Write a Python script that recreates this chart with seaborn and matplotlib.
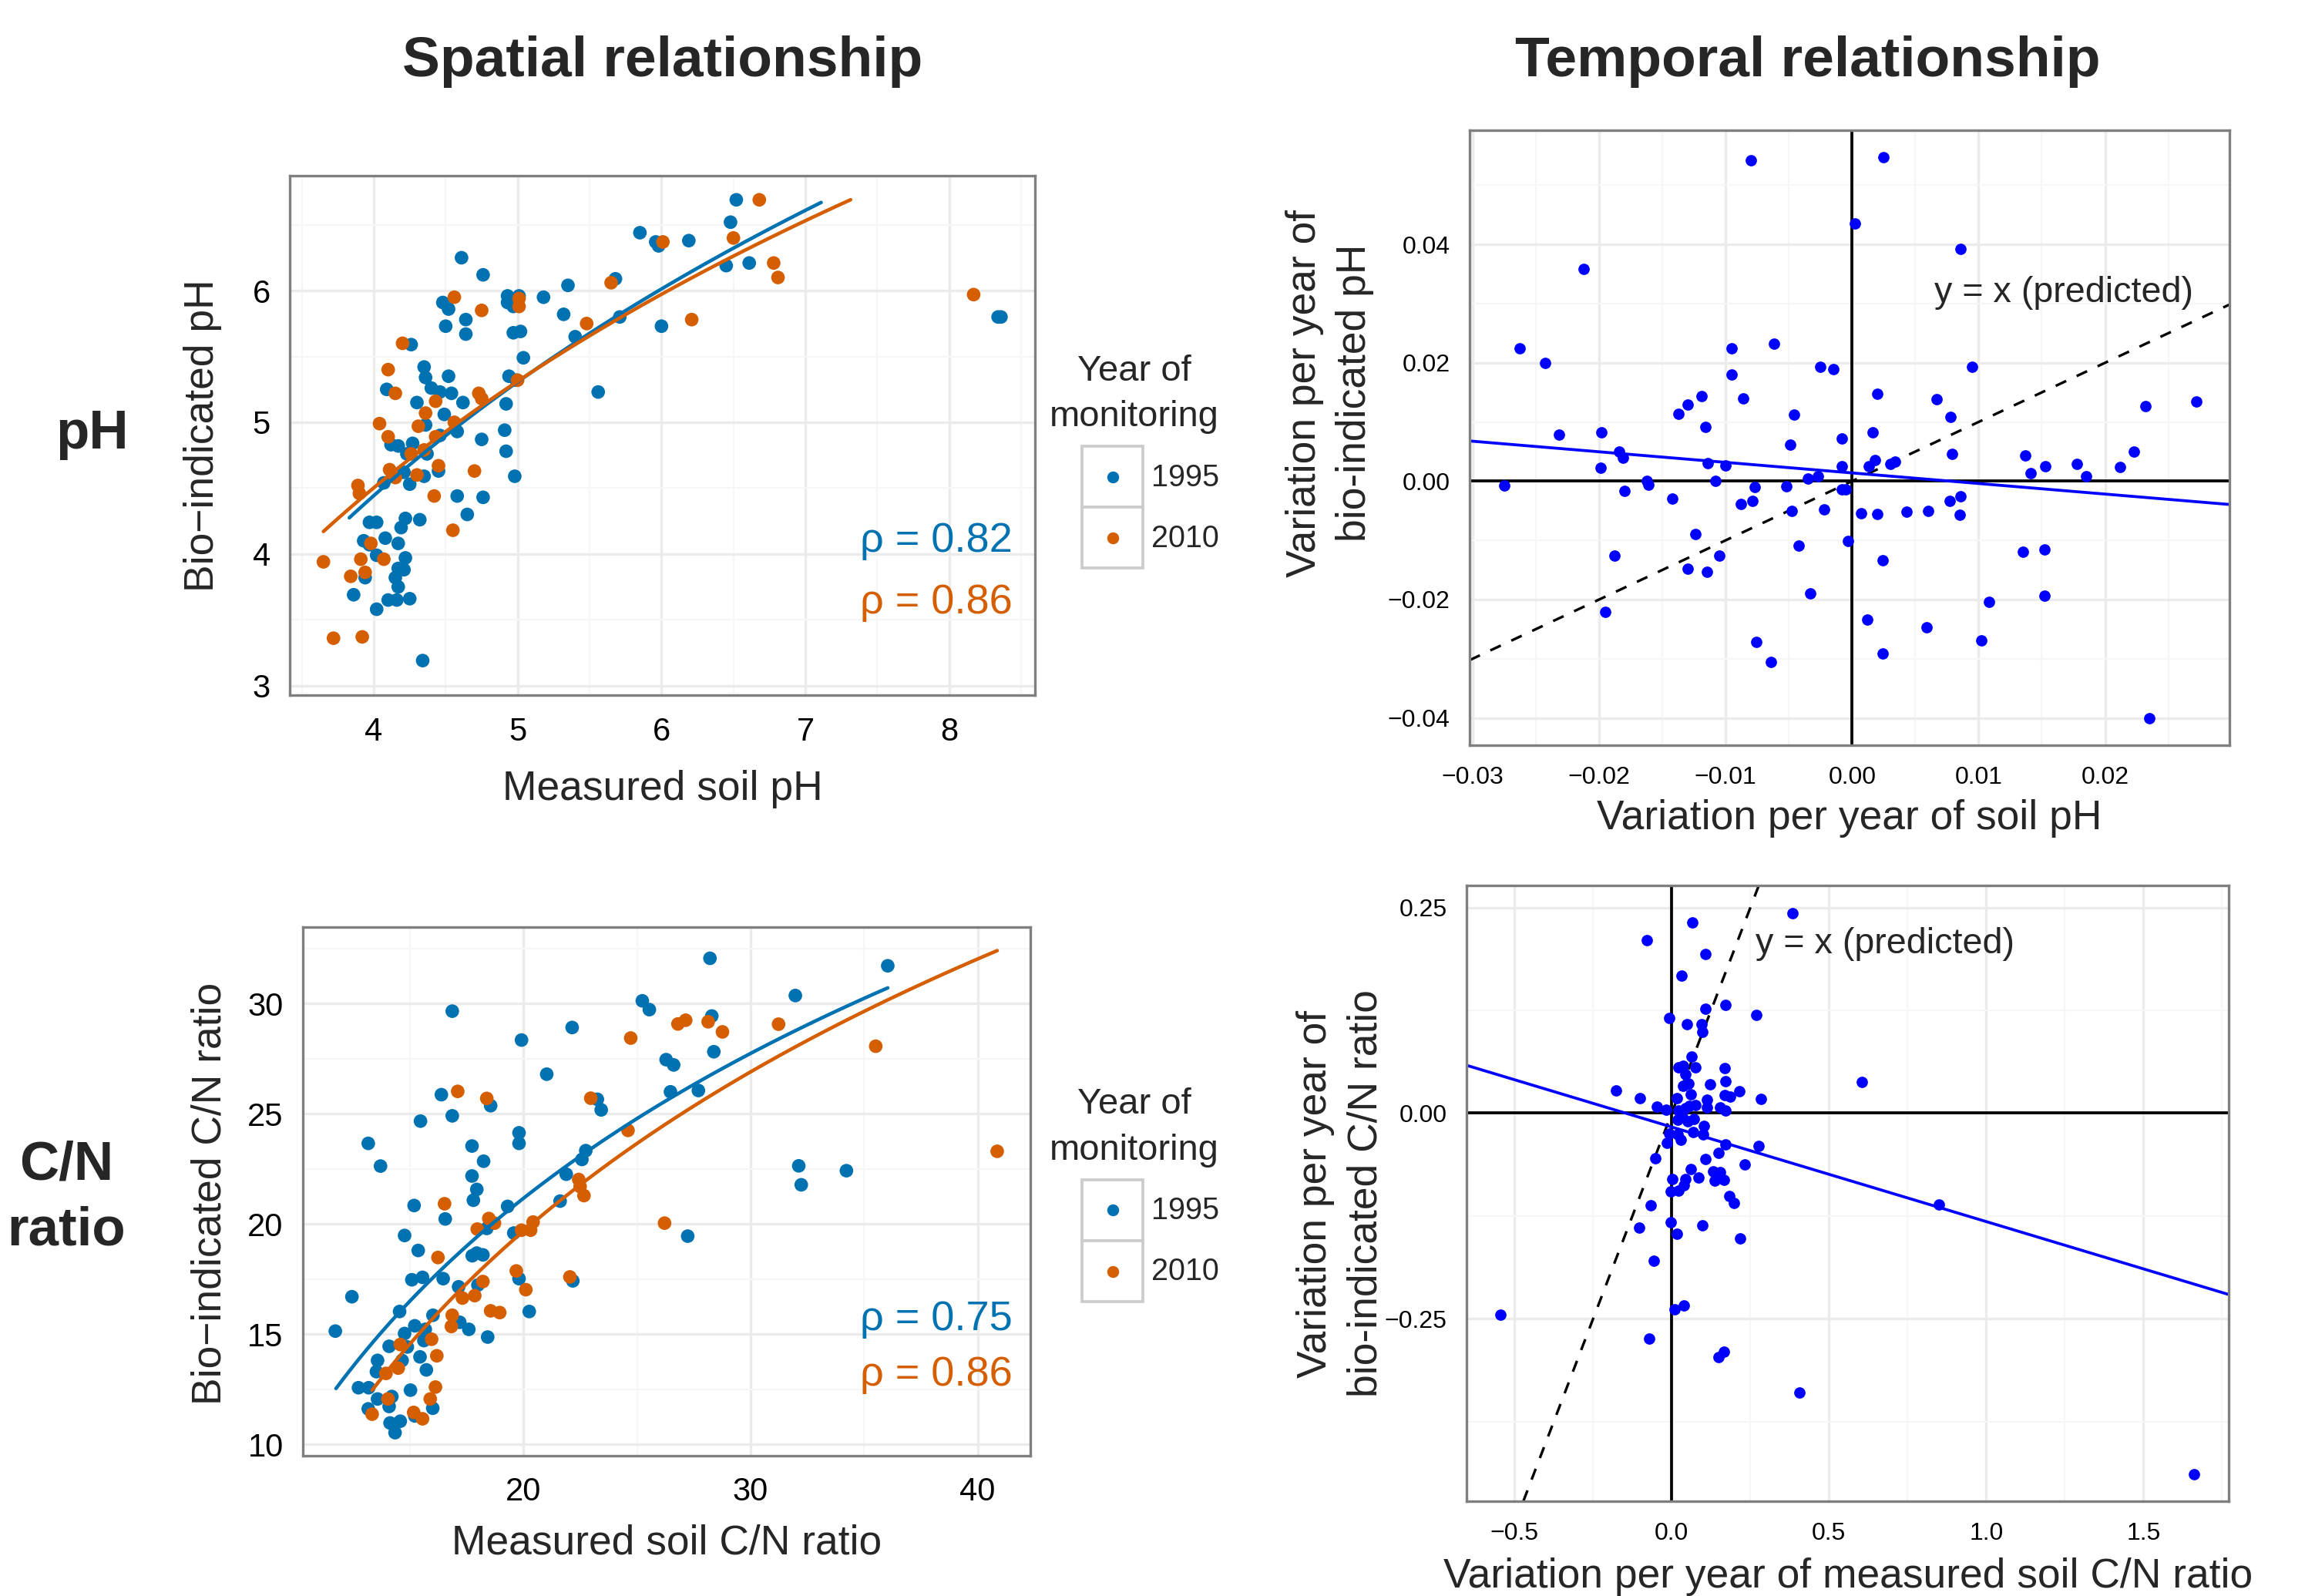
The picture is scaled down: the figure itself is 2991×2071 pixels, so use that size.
import numpy as np
import pandas as pd
import matplotlib
matplotlib.use("Agg")
import matplotlib.pyplot as plt
import seaborn as sns
from matplotlib.patches import Rectangle
from matplotlib.lines import Line2D

# ---------------- data ----------------
years = ["1995", "2010"]
year_colors = ["#0072B2", "#D55E00"]

# Spatial relationship, pH
ph95_x = [5.85, 5.96, 5.98, 4.61, 4.76, 4.48, 4.52, 4.93, 5.01, 4.93, 4.97, 5.18, 5.35, 5.68, 4.64,
          4.50, 4.64, 5.32, 5.71, 6.00, 4.97, 5.02, 5.40, 5.04, 4.26, 4.35, 4.36, 4.40, 4.46, 4.52,
          4.54, 4.09, 4.30, 4.62, 4.94, 4.99, 4.92, 5.56, 4.49, 4.36, 4.58, 4.91, 4.75, 4.92, 4.98,
          4.12, 4.17, 4.27, 4.23, 4.37, 4.46, 4.21, 4.35, 4.25, 4.07, 4.45, 4.58, 4.76, 4.65, 3.97,
          4.02, 4.22, 4.19, 4.32, 3.93, 3.97, 4.08, 4.17, 4.02, 4.22, 4.17, 4.21, 4.15, 3.94, 4.17,
          3.86, 4.10, 4.16, 4.25, 4.02, 4.34, 6.52, 6.48, 6.19, 6.45, 6.61, 8.34, 8.36]
ph95_y = [6.44, 6.37, 6.34, 6.25, 6.12, 5.91, 5.86, 5.96, 5.96, 5.91, 5.88, 5.95, 6.04, 6.09, 5.78,
          5.73, 5.67, 5.82, 5.80, 5.73, 5.68, 5.69, 5.65, 5.49, 5.59, 5.42, 5.34, 5.26, 5.23, 5.35,
          5.22, 5.25, 5.15, 5.15, 5.35, 5.32, 5.14, 5.23, 5.06, 4.98, 4.93, 4.94, 4.87, 4.78, 4.59,
          4.83, 4.82, 4.84, 4.76, 4.76, 4.90, 4.62, 4.59, 4.53, 4.54, 4.63, 4.44, 4.43, 4.30, 4.24,
          4.24, 4.27, 4.20, 4.26, 4.10, 4.07, 4.12, 4.08, 3.99, 3.97, 3.89, 3.88, 3.82, 3.82, 3.75,
          3.69, 3.65, 3.65, 3.66, 3.58, 3.19, 6.69, 6.52, 6.38, 6.19, 6.21, 5.80, 5.80]
ph10_x = [6.01, 5.65, 4.56, 4.75, 5.01, 5.01, 5.48, 4.20, 4.10, 4.15, 4.43, 4.36, 4.73, 4.75, 4.04,
          4.31, 4.56, 5.00, 4.10, 4.43, 4.26, 4.35, 4.11, 4.15, 4.30, 4.45, 4.70, 3.89, 3.90, 4.42,
          4.55, 3.98, 3.91, 4.07, 3.65, 3.84, 3.94, 3.72, 3.92, 6.68, 6.50, 6.78, 6.81, 6.21, 8.17]
ph10_y = [6.37, 6.06, 5.95, 5.85, 5.94, 5.88, 5.75, 5.60, 5.40, 5.22, 5.16, 5.07, 5.22, 5.18, 4.99,
          4.97, 5.00, 5.32, 4.89, 4.89, 4.76, 4.79, 4.64, 4.58, 4.60, 4.67, 4.63, 4.52, 4.46, 4.44,
          4.18, 4.08, 3.96, 3.96, 3.94, 3.83, 3.86, 3.36, 3.37, 6.69, 6.40, 6.21, 6.10, 5.78, 5.97]

# Spatial relationship, C/N ratio
cn95_x = [16.86, 19.91, 22.14, 25.23, 25.54, 21.02, 26.28, 26.61, 26.47, 23.25, 23.42, 16.38, 18.55,
          16.86, 15.46, 13.16, 13.70, 19.80, 19.80, 17.73, 18.24, 22.74, 22.57, 17.73, 17.94, 17.79,
          21.88, 21.61, 15.18, 16.55, 19.30, 14.76, 18.38, 19.57, 15.36, 17.74, 17.94, 18.21, 15.08,
          15.55, 16.46, 17.14, 17.99, 19.80, 22.17, 12.44, 14.54, 20.25, 11.71, 14.76, 15.21, 15.67,
          16.01, 17.19, 17.59, 18.42, 15.61, 14.08, 14.88, 13.57, 13.52, 14.65, 15.44, 15.72, 12.73,
          13.18, 13.57, 14.20, 14.08, 15.02, 13.16, 16.00, 14.12, 14.57, 14.34, 15.21, 28.21, 36.04,
          31.97, 28.29, 28.38, 27.70, 32.12, 32.23, 34.22, 27.23]
cn95_y = [29.66, 28.35, 28.92, 30.13, 29.73, 26.80, 27.46, 27.22, 26.00, 25.66, 25.18, 25.87, 25.37,
          24.91, 24.67, 23.66, 22.63, 24.14, 23.66, 23.54, 22.85, 23.33, 22.93, 22.18, 21.57, 21.08,
          22.26, 21.04, 20.84, 20.23, 20.80, 19.48, 19.80, 19.59, 18.80, 18.56, 18.68, 18.60, 17.47,
          17.58, 17.52, 17.15, 17.23, 17.52, 17.42, 16.70, 16.03, 16.03, 15.14, 15.03, 15.38, 15.22,
          15.86, 15.54, 15.22, 14.87, 14.71, 14.45, 14.42, 13.81, 13.30, 13.81, 13.97, 13.38, 12.57,
          12.57, 12.06, 12.17, 11.72, 12.46, 11.61, 11.64, 10.97, 11.05, 10.53, 11.29, 32.06, 31.72,
          30.37, 29.44, 27.82, 26.06, 22.64, 21.78, 22.42, 19.45]
cn10_x = [17.10, 18.38, 22.96, 24.72, 26.80, 27.14, 24.60, 16.52, 18.47, 18.72, 17.96, 19.91, 20.42,
          20.31, 22.43, 22.49, 22.66, 26.21, 16.23, 19.68, 20.10, 22.04, 18.21, 17.85, 17.31, 18.55,
          18.95, 16.86, 16.82, 15.95, 16.18, 14.57, 14.48, 13.94, 16.12, 15.89, 14.03, 13.33, 15.16,
          15.55, 28.13, 28.76, 31.23, 35.51, 40.86]
cn10_y = [26.02, 25.70, 25.71, 28.44, 29.08, 29.25, 24.25, 20.92, 20.25, 20.04, 19.77, 19.72, 20.09,
          19.72, 22.02, 21.70, 21.29, 20.04, 18.48, 17.87, 17.02, 17.60, 17.39, 16.75, 16.64, 16.06,
          15.98, 15.86, 15.35, 14.77, 14.02, 14.53, 13.46, 13.22, 12.60, 12.06, 12.06, 11.37, 11.45,
          11.16, 29.18, 28.72, 29.07, 28.07, 23.30]

# log fits y = a + b*ln(x), drawn over the given x ranges
ph_fit_a = [-0.925, -0.523]
ph_fit_b = [3.872, 3.625]
ph_fit_xmin = [3.83, 3.65]
ph_fit_xmax = [7.11, 7.315]
cn_fit_a = [-27.39, -33.67]
cn_fit_b = [16.21, 17.81]
cn_fit_xmin = [11.74, 13.33]
cn_fit_xmax = [36.04, 40.86]
rho_ph = ["0.82", "0.86"]
rho_cn = ["0.75", "0.86"]

# Temporal relationship, pH
dph_x = [-0.0080, -0.0212, -0.0263, -0.0243, -0.0232, -0.0198, -0.0199, -0.0184, -0.0181, -0.0275,
         -0.0180, -0.0162, -0.0161, -0.0142, -0.0137, -0.0130, -0.0119, -0.0116, -0.0114, -0.0108,
         -0.0095, -0.0095, -0.0086, -0.0062, -0.0100, -0.0077, -0.0088, -0.0079, -0.0124, -0.0130,
         -0.0115, -0.0105, -0.0188, -0.0195, -0.0076, -0.0064, -0.0052, -0.0049, -0.0046, -0.0048,
         -0.0042, -0.0033, -0.0035, -0.0027, -0.0025, -0.0015, -0.0022, -0.0008, -0.0008, -0.0008,
         -0.0005, -0.0003, 0.0025, 0.0002, 0.0086, 0.0095, 0.0020, 0.0067, 0.0078, 0.0016, 0.0079,
         0.0018, 0.0013, 0.0030, 0.0034, 0.0007, 0.0020, 0.0043, 0.0060, 0.0077, 0.0086, 0.0085,
         0.0024, 0.0012, 0.0059, 0.0024, 0.0102, 0.0108, 0.0135, 0.0152, 0.0152, 0.0137, 0.0141,
         0.0153, 0.0178, 0.0185, 0.0212, 0.0223, 0.0232, 0.0272, 0.0235]
dph_y = [0.0542, 0.0358, 0.0225, 0.0200, 0.0078, 0.0082, 0.0022, 0.0050, 0.0040, -0.0007,
         -0.0017, 0.0000, -0.0006, -0.0029, 0.0114, 0.0129, 0.0144, 0.0091, 0.0031, 0.0000,
         0.0225, 0.0180, 0.0140, 0.0232, 0.0026, -0.0010, -0.0039, -0.0033, -0.0090, -0.0148,
         -0.0153, -0.0126, -0.0126, -0.0221, -0.0272, -0.0306, -0.0008, 0.0062, 0.0112, -0.0050,
         -0.0109, -0.0189, 0.0004, 0.0008, 0.0193, 0.0189, -0.0048, 0.0072, 0.0025, -0.0014,
         -0.0014, -0.0101, 0.0547, 0.0435, 0.0393, 0.0193, 0.0147, 0.0138, 0.0108, 0.0082, 0.0046,
         0.0036, 0.0025, 0.0029, 0.0033, -0.0054, -0.0055, -0.0052, -0.0050, -0.0034, -0.0026, -0.0057,
         -0.0134, -0.0234, -0.0247, -0.0291, -0.0269, -0.0204, -0.0119, -0.0116, -0.0193, 0.0044, 0.0014,
         0.0025, 0.0029, 0.0008, 0.0024, 0.0050, 0.0127, 0.0135, -0.0400]
dph_fit_intercept = 0.00139
dph_fit_slope = -0.1786

# Temporal relationship, C/N ratio
dcn_x = [0.065, -0.079, 0.106, 0.032, 0.383, 0.171, 0.268, 0.106, -0.008, 0.048, 0.096, 0.098,
         0.062, 0.022, 0.037, 0.075, 0.043, 0.168, 0.172, 0.036, 0.053, 0.121, 0.215, -0.177,
         -0.101, 0.168, 0.186, 0.283, 0.016, 0.061, 0.112, 0.112, -0.048, -0.017, 0.022, 0.043,
         0.055, 0.075, 0.153, 0.172, 0.018, 0.033, 0.051, 0.071, -0.007, 0.018, 0.028, -0.016,
         0.069, 0.102, 0.100, 0.170, 0.148, 0.276, -0.053, 0.107, 0.060, 0.231, 0.131, 0.153,
         0.137, 0.166, 0.084, 0.002, 0.043, 0.039, 0.022, -0.003, 0.184, 0.198, -0.068, -0.103,
         -0.004, 0.016, 0.098, 0.217, -0.056, 0.010, 0.039, -0.545, -0.071, 0.149, 0.166, 0.406,
         0.605, 0.849, 1.662]
dcn_y = [0.232, 0.210, 0.193, 0.167, 0.243, 0.132, 0.119, 0.127, 0.116, 0.108, 0.108, 0.099,
         0.069, 0.056, 0.058, 0.056, 0.047, 0.055, 0.039, 0.033, 0.036, 0.035, 0.027, 0.028,
         0.018, 0.022, 0.020, 0.017, 0.018, 0.023, 0.016, 0.007, 0.008, 0.004, 0.003, 0.006,
         0.009, 0.010, 0.007, 0.003, -0.008, -0.004, -0.010, -0.007, -0.025, -0.026, -0.032, -0.036,
         -0.023, -0.016, -0.026, -0.038, -0.048, -0.040, -0.055, -0.056, -0.068, -0.062, -0.071, -0.072,
         -0.082, -0.081, -0.078, -0.080, -0.080, -0.088, -0.094, -0.095, -0.101, -0.109, -0.112, -0.139,
         -0.133, -0.147, -0.136, -0.152, -0.180, -0.239, -0.234, -0.245, -0.274, -0.297, -0.290, -0.340,
         0.038, -0.111, -0.439]
dcn_fit_intercept = -0.0169
dcn_fit_slope = -0.115

# tick values / labels
ph_xticks = [4, 5, 6, 7, 8]
ph_yticks = [3, 4, 5, 6]
cn_xticks = [20, 30, 40]
cn_yticks = [10, 15, 20, 25, 30]
dph_xticks = [-0.03, -0.02, -0.01, 0.00, 0.01, 0.02]
dph_xlabels = ["\u22120.03", "\u22120.02", "\u22120.01", "0.00", "0.01", "0.02"]
dph_yticks = [-0.04, -0.02, 0.00, 0.02, 0.04]
dph_ylabels = ["\u22120.04", "\u22120.02", "0.00", "0.02", "0.04"]
dcn_xticks = [-0.5, 0.0, 0.5, 1.0, 1.5]
dcn_xlabels = ["\u22120.5", "0.0", "0.5", "1.0", "1.5"]
dcn_yticks = [-0.25, 0.00, 0.25]
dcn_ylabels = ["\u22120.25", "0.00", "0.25"]

# ---------------- figure ----------------
sns.set_style("white")
plt.rcParams["font.family"] = ["Liberation Sans", "DejaVu Sans"]
plt.rcParams["axes.unicode_minus"] = True

W, H = 2991, 2071
DPI = 300
fig = plt.figure(figsize=(W / DPI, H / DPI), dpi=DPI)


def px_axes(x0, y0, x1, y1):
    return fig.add_axes([x0 / W, 1 - y1 / H, (x1 - x0) / W, (y1 - y0) / H])


ax1 = px_axes(376, 228, 1343.3, 902.1)
ax2 = px_axes(1906.7, 169.4, 2892.7, 966.5)
ax3 = px_axes(392.7, 1202.9, 1336.7, 1888.8)
ax4 = px_axes(1902.7, 1149.4, 2891.7, 1948.0)


def style(ax, xlim, ylim, xt, yt, xminor, yminor, xl=None, yl=None, tsize=10, pad=2.8):
    ax.set_xlim(*xlim)
    ax.set_ylim(*ylim)
    ax.set_xticks(xt, labels=xl if xl is not None else [str(v) for v in xt])
    ax.set_yticks(yt, labels=yl if yl is not None else [str(v) for v in yt])
    ax.set_xticks(xminor, minor=True)
    ax.set_yticks(yminor, minor=True)
    ax.grid(which="major", color="#EBEBEB", lw=0.8)
    ax.grid(which="minor", color="#F6F6F6", lw=0.5)
    ax.set_axisbelow(True)
    ax.tick_params(which="major", length=3.2, width=0.9, color="black",
                   labelsize=tsize, pad=pad, direction="out", labelcolor="black")
    ax.tick_params(axis="x", which="major", pad=pad + 0.6)
    ax.tick_params(which="minor", length=0)
    for s in ax.spines.values():
        s.set_color("#7F7F7F")
        s.set_linewidth(0.8)
        s.set_visible(True)


# ---- panel 1: spatial pH ----
df_ph = pd.DataFrame({
    "x": ph95_x + ph10_x,
    "y": ph95_y + ph10_y,
    "year": [years[0]] * len(ph95_x) + [years[1]] * len(ph10_x),
})
sns.scatterplot(data=df_ph, x="x", y="y", hue="year", palette=year_colors, hue_order=years,
                s=18, linewidth=0, ax=ax1, legend=False, zorder=3)
for i in range(2):
    xs = np.linspace(ph_fit_xmin[i], ph_fit_xmax[i], 120)
    sns.lineplot(x=xs, y=ph_fit_a[i] + ph_fit_b[i] * np.log(xs), ax=ax1, color=year_colors[i],
                 lw=1.1, estimator=None, sort=False, zorder=4)
style(ax1, (3.416, 8.598), (2.927, 6.873), ph_xticks, ph_yticks,
      [3.5, 4.5, 5.5, 6.5, 7.5, 8.5], [3.5, 4.5, 5.5, 6.5])
for i, yy in enumerate([0.2768, 0.1575]):
    ax1.text(0.969, yy, "\u03c1 = " + rho_ph[i], transform=ax1.transAxes, ha="right",
             va="baseline", fontsize=13, color=year_colors[i])

# ---- panel 3: spatial C/N ----
df_cn = pd.DataFrame({
    "x": cn95_x + cn10_x,
    "y": cn95_y + cn10_y,
    "year": [years[0]] * len(cn95_x) + [years[1]] * len(cn10_x),
})
sns.scatterplot(data=df_cn, x="x", y="y", hue="year", palette=year_colors, hue_order=years,
                s=18, linewidth=0, ax=ax3, legend=False, zorder=3)
for i in range(2):
    xs = np.linspace(cn_fit_xmin[i], cn_fit_xmax[i], 120)
    sns.lineplot(x=xs, y=cn_fit_a[i] + cn_fit_b[i] * np.log(xs), ax=ax3, color=year_colors[i],
                 lw=1.1, estimator=None, sort=False, zorder=4)
style(ax3, (10.27, 42.31), (9.49, 33.48), cn_xticks, cn_yticks,
      [15, 25, 35], [12.5, 17.5, 22.5, 27.5, 32.5])
for i, yy in enumerate([0.2369, 0.1319]):
    ax3.text(0.9752, yy, "\u03c1 = " + rho_cn[i], transform=ax3.transAxes, ha="right",
             va="baseline", fontsize=13, color=year_colors[i])

# ---- panel 2: temporal pH ----
ax2.axhline(0, color="black", lw=0.9, zorder=2)
ax2.axvline(0, color="black", lw=0.9, zorder=2)
ax2.axline((0, 0), slope=1, color="black", lw=0.8, ls=(0, (4.5, 4.5)), zorder=2)
ax2.axline((0, dph_fit_intercept), slope=dph_fit_slope, color="#0000FF", lw=0.9, zorder=2)
sns.scatterplot(x=dph_x, y=dph_y, color="#0000FF", s=12.5, linewidth=0, ax=ax2, zorder=3)
style(ax2, (-0.03026, 0.02982), (-0.04455, 0.05924), dph_xticks, dph_yticks,
      [-0.025, -0.015, -0.005, 0.005, 0.015, 0.025], [-0.03, -0.01, 0.01, 0.03, 0.05],
      dph_xlabels, dph_ylabels, tsize=7.7)
ax2.text(0.0065, 0.0302, "y = x (predicted)", ha="left", va="baseline", fontsize=11.2)

# ---- panel 4: temporal C/N ----
ax4.axhline(0, color="black", lw=0.9, zorder=2)
ax4.axvline(0, color="black", lw=0.9, zorder=2)
ax4.axline((0, 0), slope=1, color="black", lw=0.8, ls=(0, (4.5, 4.5)), zorder=2)
ax4.axline((0, dcn_fit_intercept), slope=dcn_fit_slope, color="#0000FF", lw=0.9, zorder=2)
sns.scatterplot(x=dcn_x, y=dcn_y, color="#0000FF", s=12.5, linewidth=0, ax=ax4, zorder=3)
style(ax4, (-0.6534, 1.7706), (-0.472, 0.2765), dcn_xticks, dcn_yticks,
      [-0.25, 0.25, 0.75, 1.25, 1.75], [-0.375, -0.125, 0.125],
      dcn_xlabels, dcn_ylabels, tsize=7.7)
ax4.text(0.267, 0.1946, "y = x (predicted)", ha="left", va="baseline", fontsize=11.2)

# ---- axis labels ----
LAB = 12.8
def set_labels(ax, xlab, ylab, xpos, ypos, ls=1.0):
    ax.set_xlabel(xlab, fontsize=LAB)
    ax.set_ylabel(ylab, fontsize=LAB, linespacing=ls)
    ax.xaxis.label.set_va("baseline")
    ax.yaxis.label.set_va("baseline")
    ax.xaxis.set_label_coords(*xpos)
    ax.yaxis.set_label_coords(*ypos)

set_labels(ax1, "Measured soil pH", "Bio\u2212indicated pH", (0.5, -0.2013), (-0.1028, 0.5))
set_labels(ax3, "Measured soil C/N ratio", "Bio\u2212indicated C/N ratio", (0.5, -0.1855), (-0.113, 0.4954))
set_labels(ax2, "Variation per year of soil pH", "Variation per year of\nbio-indicated pH",
           (0.5, -0.137), (-0.152, 0.5727), ls=1.4)
set_labels(ax4, "Variation per year of measured soil C/N ratio",
           "Variation per year of\nbio-indicated C/N ratio", (0.5008, -0.1402), (-0.1335, 0.4996), ls=1.4)

# ---- titles and row labels ----
fig.text(860 / W, 1 - 99 / H, "Spatial relationship", ha="center", va="baseline",
         fontsize=17.6, fontweight="bold")
fig.text(2346 / W, 1 - 99 / H, "Temporal relationship", ha="center", va="baseline",
         fontsize=17.6, fontweight="bold")
fig.text(120 / W, 1 - 581.8 / H, "pH", ha="center", va="baseline", fontsize=17, fontweight="bold")
fig.text(86 / W, 1 - 1615 / H, "C/N\nratio", ha="center", va="baseline", fontsize=17,
         fontweight="bold", multialignment="center", linespacing=1.36)


# ---- legends ----
class KeyHandler:
    def legend_artist(self, legend, orig_handle, fontsize, handlebox):
        x0, y0 = -handlebox.xdescent, -handlebox.ydescent
        w, h = handlebox.width, handlebox.height
        tr = handlebox.get_transform()
        rect = Rectangle((x0, y0), w, h, facecolor="white", edgecolor="#CCCCCC", lw=0.9,
                         transform=tr)
        dot = Line2D([x0 + w / 2], [y0 + h / 2], marker="o", ls="none", ms=3.7, mew=0,
                     color=orig_handle.get_color(), transform=tr)
        handlebox.add_artist(rect)
        handlebox.add_artist(dot)
        return rect


for top in [459.5, 1411.3]:
    handles = [Line2D([], [], color=c) for c in year_colors]
    leg = fig.legend(handles, years, title="Year of\nmonitoring", loc="upper right",
                     bbox_to_anchor=(1582 / W, 1 - top / H), bbox_transform=fig.transFigure,
                     frameon=False, fontsize=9.5, title_fontsize=11.3, handlelength=2.0,
                     handleheight=2.7, labelspacing=0, handletextpad=0.27, borderpad=0,
                     borderaxespad=0, alignment="right",
                     handler_map={Line2D: KeyHandler()})
    leg.get_title().set_multialignment("center")
    leg.get_title().set_linespacing(1.45)
    leg._legend_box.sep = 3.9

fig.savefig("out.png", dpi=DPI)
